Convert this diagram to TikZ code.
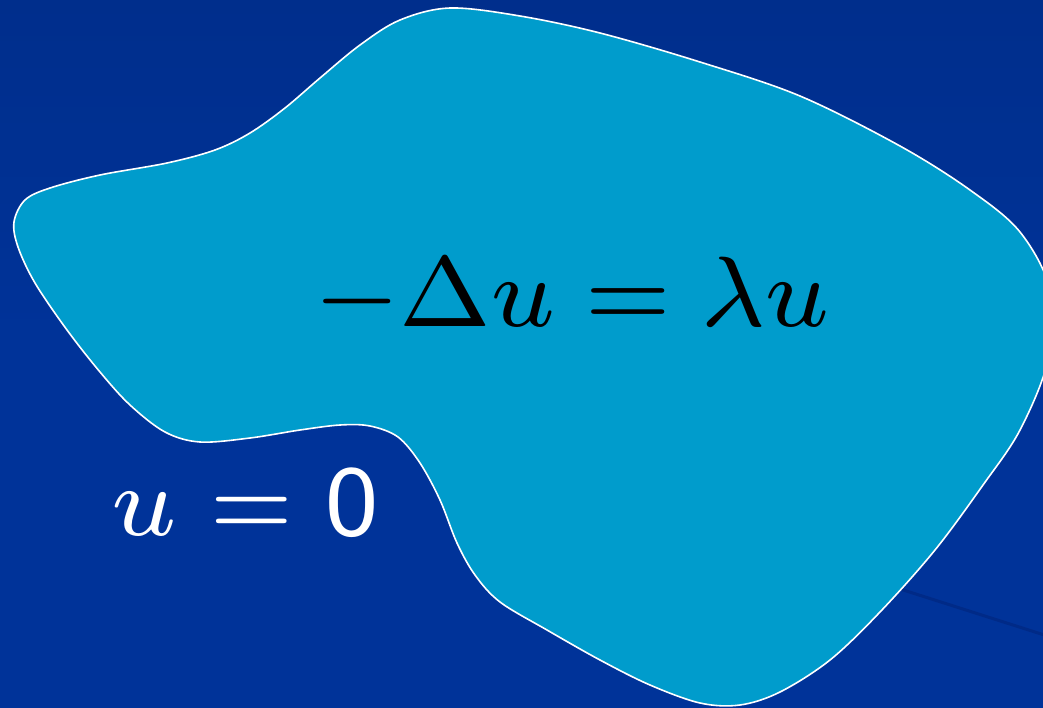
\documentclass[tikz,border=0pt]{standalone}
\usepackage{fix-cm}
\usepackage{graphicx}
\definecolor{bgtop}{RGB}{0,46,140}
\definecolor{bgbot}{RGB}{0,51,153}
\definecolor{blobfill}{RGB}{0,156,204}
\definecolor{faintline}{RGB}{0,42,135}
\tikzset{
  blob/.style={fill=blobfill, draw=white, line width=1.6pt},
  bigtext/.style={inner sep=0pt, anchor=base west, font=\fontsize{7}{8.4}\selectfont},
  eqtext/.style={inner sep=0pt, anchor=base west, font=\fontsize{8}{9.6}\selectfont},
}
\newcommand{\enlargetext}[1]{\scalebox{14.2857}{#1}}
\newcommand{\enlargeeq}[1]{\scalebox{12.94}[12.5]{#1}}
\begin{document}
\begin{tikzpicture}[x=1pt,y=-1pt]
\useasboundingbox (0,0) rectangle (1043,707);
\clip (0,0) rectangle (1043,707);
\shade[top color=bgtop, bottom color=bgbot, middle color=bgbot] (0,0) rectangle (1043,707);
\draw[line width=3pt, faintline] (850,573) -- (1060,640);
\draw[blob] plot[smooth cycle, tension=0.55] coordinates {
 (450,8) (520,16) (600,33) (700,62) (800,96) (900,146) (970,190) (1020,232)
 (1050,290) (1048,360) (1020,430) (983,485) (935,550) (880,612) (830,660)
 (780,692) (740,705) (700,703) (650,685) (600,660) (547,630) (500,602)
 (475,575) (457,543) (440,500) (420,463) (398,437) (370,426) (340,425)
 (300,430) (250,438) (200,442) (165,432) (130,405) (100,372) (67,330)
 (35,283) (18,247) (14,222) (25,200) (50,188) (100,175) (167,163) (215,150)
 (250,133) (285,108) (320,78) (360,45) (400,20)};
\node[eqtext, text=black] (eq) at (314,326) {\enlargeeq{$-\Delta u = \lambda u$}};
\node[bigtext, text=white] (bc) at (110,535) {\enlargetext{$u \mathrel{\textsf{=}} \textsf{0}$}};
\end{tikzpicture}
\end{document}
